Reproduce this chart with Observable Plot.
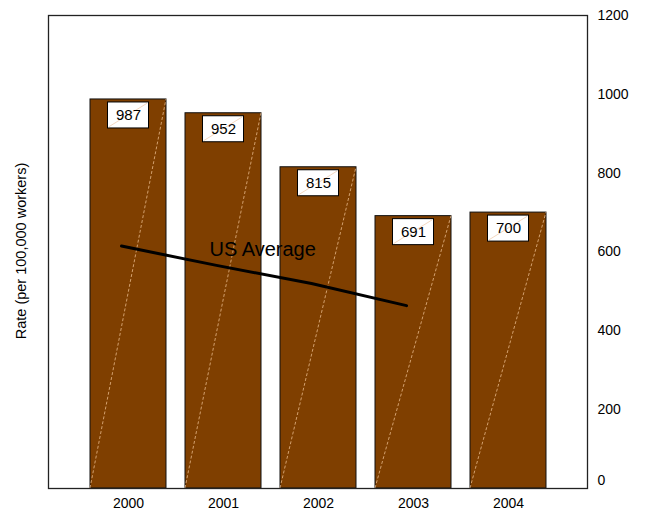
<!DOCTYPE html>
<html>
<head>
<meta charset="utf-8">
<script src="https://cdn.jsdelivr.net/npm/d3@7"></script>
<script src="https://cdn.jsdelivr.net/npm/@observablehq/plot@0.6"></script>
<style>
  html, body { margin: 0; padding: 0; background: #fff; }
  svg { display: block; }
</style>
</head>
<body>
<div id="chart"></div>
<script>
// Data
const years = ["2000", "2001", "2002", "2003", "2004"];
const rates = [987, 952, 815, 691, 700];
const avgYears = ["2000", "2001", "2002", "2003"];
const avgRates = [615, 566, 520, 464];
const yTicks = [200, 400, 600, 800, 1000, 1200];
const yZeroTick = [0];
const yLabel = "Rate (per 100,000 workers)";
const avgLabel = "US Average";

const bars = years.map((year, i) => ({year, value: rates[i]}));
const avg = avgYears.map((year, i) => ({year, value: avgRates[i]}));

const font = "'Liberation Sans', Arial, sans-serif";
const barColor = "#7F3F00";

// Custom mark: faint diagonal lines inside bars and label boxes
function diagonals(index, scales) {
  const x = scales.x, y = scales.y;
  const bw = typeof x.bandwidth === "function" ? x.bandwidth() : x.bandwidth;
  const g = d3.create("svg:g");
  for (const d of bars) {
    const x0 = x(d.year), x1 = x0 + bw;
    g.append("line")
      .attr("x1", x0).attr("y1", y(0))
      .attr("x2", x1).attr("y2", y(d.value))
      .attr("stroke", "#E8B98A").attr("stroke-width", 1)
      .attr("stroke-dasharray", "3,2").attr("opacity", 0.8);
  }
  return g.node();
}
function boxDiagonals(index, scales) {
  const x = scales.x, y = scales.y;
  const bw = typeof x.bandwidth === "function" ? x.bandwidth() : x.bandwidth;
  const g = d3.create("svg:g");
  for (const d of bars) {
    const x0 = x(d.year) + 17.5, x1 = x(d.year) + bw - 17.5;
    g.append("line")
      .attr("x1", x0 + 1).attr("y1", y(d.value) + 28)
      .attr("x2", x1 - 1).attr("y2", y(d.value) + 4)
      .attr("stroke", "#F0C9A8").attr("stroke-width", 0.8)
      .attr("opacity", 0.9);
  }
  return g.node();
}

const chart = Plot.plot({
  width: 646,
  height: 514,
  marginTop: 15,
  marginBottom: 26,
  marginLeft: 48,
  marginRight: 59,
  style: {fontFamily: font, background: "white", color: "black"},
  x: {domain: years, paddingInner: 0.2, paddingOuter: 0.43, label: null},
  y: {domain: [0, 1200], label: null},
  marks: [
    Plot.barY(bars, {x: "year", y: "value", fill: barColor, stroke: "#111", strokeWidth: 1}),
    diagonals,
    Plot.line(avg, {x: "year", y: "value", stroke: "black", strokeWidth: 3, dx: -7}),
    Plot.text([avgLabel], {x: () => "2001", y: () => 606, text: d => d, textAnchor: "start", dx: -14, fontSize: 20, fill: "black", letterSpacing: -0.3}),
    Plot.barY(bars, {x: "year", y1: "value", y2: "value", insetLeft: 17.5, insetRight: 17.5, insetTop: 3, insetBottom: -29, fill: "white", stroke: "black", strokeWidth: 1}),
    boxDiagonals,
    Plot.text(bars, {x: "year", y: "value", text: d => String(d.value), dy: 16, fontSize: 15, fill: "black"}),
    Plot.axisY({anchor: "right", ticks: yTicks, tickSize: 0, tickPadding: 10, tickFormat: d => String(d), fontSize: 14, label: null}),
    Plot.axisY({anchor: "right", ticks: yZeroTick, tickSize: 0, tickPadding: 10, tickFormat: d => String(d), fontSize: 14, dy: -8, label: null}),
    Plot.axisX({anchor: "bottom", tickSize: 0, tickPadding: 10, fontSize: 14, label: null}),
    Plot.text([yLabel], {frameAnchor: "left", textAnchor: "middle", text: d => d, rotate: -90, dx: -27, dy: -1, fontSize: 14.5, fill: "black"}),
    Plot.frame({stroke: "#222", strokeWidth: 1.3})
  ]
});
document.getElementById("chart").appendChild(chart);
</script>
</body>
</html>
